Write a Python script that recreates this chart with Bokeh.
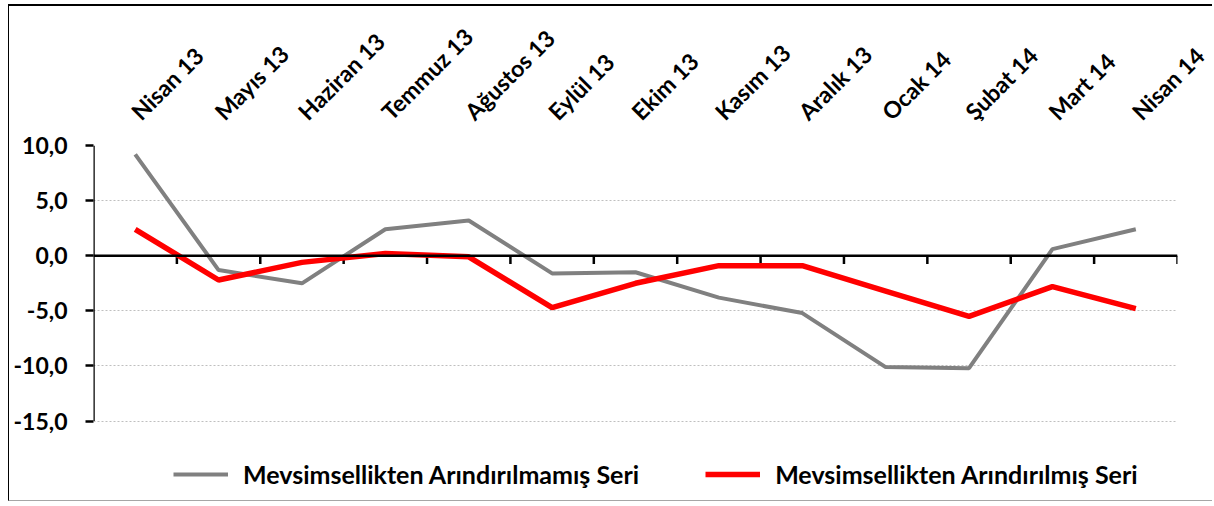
import math
from bokeh.plotting import figure
from bokeh.models import (Range1d, FixedTicker, LinearAxis, Span, Legend, LegendItem)
from bokeh.embed import file_html
from bokeh.resources import INLINE

categories = ["Nisan 13", "Mayıs 13", "Haziran 13", "Temmuz 13", "Ağustos 13", "Eylül 13",
              "Ekim 13", "Kasım 13", "Aralık 13", "Ocak 14", "Şubat 14", "Mart 14", "Nisan 14"]
unadjusted = [9.2, -1.3, -2.5, 2.4, 3.2, -1.6, -1.5, -3.8, -5.2, -10.1, -10.2, 0.6, 2.4]
adjusted = [2.4, -2.2, -0.6, 0.2, -0.1, -4.7, -2.5, -0.9, -0.9, -3.2, -5.5, -2.8, -4.8]
y_ticks = [-15, -10, -5, 0, 5, 10]
y_labels = ["-15,0", "-10,0", "-5,0", "0,0", "5,0", "10,0"]
name_unadj = "Mevsimsellikten Arındırılmamış Seri"
name_adj = "Mevsimsellikten Arındırılmış Seri"

FONT = "Lato"
n = len(categories)
xs = [i + 0.5 for i in range(n)]

# frame extends below the value axis to hold the legend
Y_TOP, Y_BOTTOM = 10, -22.2
PX_PER_UNIT = 11.04
frame_h = round((Y_TOP - Y_BOTTOM) * PX_PER_UNIT)
W, H = 1204, 497
TOP = 139
LEFT = 84
FRAME_W = 1084
p = figure(width=W, height=H, output_backend="svg", toolbar_location=None,
           x_range=Range1d(0, n), y_range=Range1d(Y_BOTTOM, Y_TOP),
           x_axis_location=None, y_axis_location=None,
           min_border_left=LEFT, min_border_right=W - LEFT - FRAME_W, min_border_top=TOP,
           min_border_bottom=H - TOP - frame_h)
p.styles = {"margin-left": "8px", "margin-top": "4px",
            "border-top": "2px solid black", "border-left": "1px solid black",
            "border-bottom": "1px solid #a6a6a6"}
p.outline_line_color = None
p.background_fill_color = "white"
p.border_fill_color = "white"

# y axis (line drawn separately so it stops at the lowest tick)
ya = LinearAxis(ticker=FixedTicker(ticks=y_ticks),
                major_label_overrides={t: l for t, l in zip(y_ticks, y_labels)})
ya.axis_line_color = None
ya.major_tick_line_width = 2.5
ya.major_tick_line_color = "black"
ya.major_tick_in = 0
ya.major_tick_out = 8
ya.minor_tick_line_color = None
ya.major_label_text_font = FONT
ya.major_label_text_font_style = "bold"
ya.major_label_text_font_size = "23px"
ya.major_label_text_color = "black"
ya.major_label_standoff = 18
p.add_layout(ya, "left")
p.segment(x0=[0], y0=[min(y_ticks)], x1=[0], y1=[max(y_ticks)], line_color="black", line_width=2.5)

# category labels above
xa = LinearAxis(ticker=FixedTicker(ticks=xs),
                major_label_overrides={x: c for x, c in zip(xs, categories)})
xa.axis_line_color = None
xa.major_tick_line_color = None
xa.minor_tick_line_color = None
xa.major_label_orientation = math.pi / 4
xa.major_label_text_font = FONT
xa.major_label_text_font_style = "bold"
xa.major_label_text_font_size = "23px"
xa.major_label_text_color = "black"
xa.major_label_standoff = 24
p.add_layout(xa, "above")

# grid
p.ygrid.ticker = FixedTicker(ticks=[t for t in y_ticks if t != 0])
p.ygrid.grid_line_color = "#bfbfbf"
p.ygrid.grid_line_dash = "2 2"
p.ygrid.grid_line_width = 1
p.xgrid.grid_line_color = None

# zero line with category-boundary ticks
p.add_layout(Span(location=0, dimension="width", line_color="black", line_width=2.5))
bx = list(range(1, n + 1))
p.segment(x0=bx, y0=[0] * len(bx), x1=bx, y1=[-0.75] * len(bx), line_color="black", line_width=2.5)

r1 = p.line(xs, unadjusted, line_color="#808080", line_width=4)
r2 = p.line(xs, adjusted, line_color="#ff0000", line_width=5.5)

legend = Legend(items=[LegendItem(label=name_unadj, renderers=[r1]),
                       LegendItem(label=name_adj, renderers=[r2])],
                orientation="horizontal", location=(80, 11))
legend.padding = 0
legend.margin = 0
legend.glyph_width = 55
legend.glyph_height = 20
legend.label_standoff = 15
legend.spacing = 66
legend.border_line_color = None
legend.background_fill_alpha = 0
legend.label_text_font = FONT
legend.label_text_font_style = "bold"
legend.label_text_font_size = "25px"
legend.label_text_color = "black"
p.add_layout(legend, "center")

open("out.html", "w").write(file_html(p, INLINE))
